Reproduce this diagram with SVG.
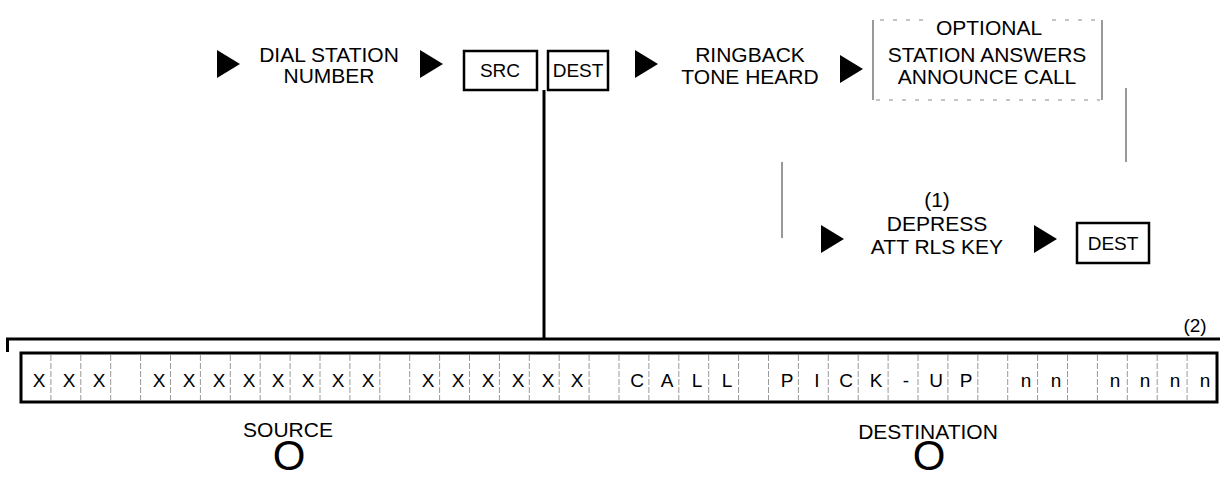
<svg xmlns="http://www.w3.org/2000/svg" width="1220" height="479" viewBox="0 0 1220 479">
<style>
text{font-family:"Liberation Sans",Arial,sans-serif;fill:#000}
.t{font-size:21px;text-anchor:middle}
.b{font-size:19px;text-anchor:middle}
.c{font-size:19px;text-anchor:middle}
.big{font-size:42px;text-anchor:middle}
.box{fill:#fff;stroke:#000;stroke-width:2.5}
.thin{stroke:#555;stroke-width:1.2;fill:none}
.dash{stroke:#888;stroke-width:1;stroke-dasharray:4 9;fill:none}
.div{stroke:#999;stroke-width:1;stroke-dasharray:6 2;fill:none}
.arr{fill:#000}
</style>
<defs>
<path id="tri" d="M0,0 L23,14 L0,28 Z"/>
</defs>
<g id="connectors">
<line x1="544" y1="90" x2="544" y2="340" stroke="#000" stroke-width="3"/>
<path d="M7.5,352 V339 H1220" fill="none" stroke="#000" stroke-width="3"/>
<line class="thin" x1="782" y1="162" x2="782" y2="238"/>
<line class="thin" x1="1126" y1="88" x2="1126" y2="162"/>
</g>
<g id="dial">
<use href="#tri" class="arr" x="217" y="50"/>
<text class="t" x="329" y="62">DIAL STATION</text>
<text class="t" x="329" y="83">NUMBER</text>
<use href="#tri" class="arr" x="420" y="50"/>
</g>
<g id="src">
<rect class="box" x="464" y="51" width="73" height="39"/>
<text class="b" x="500" y="77">SRC</text>
</g>
<g id="dest1">
<rect class="box" x="548" y="51" width="60" height="39"/>
<text class="b" x="578" y="77">DEST</text>
</g>
<g id="ringback">
<use href="#tri" class="arr" x="635" y="50"/>
<text class="t" x="750" y="62">RINGBACK</text>
<text class="t" x="750" y="84">TONE HEARD</text>
<use href="#tri" class="arr" x="840" y="55"/>
</g>
<g id="optional">
<line class="thin" x1="873" y1="20" x2="873" y2="100"/>
<line class="thin" x1="1102" y1="20" x2="1102" y2="100"/>
<line class="dash" x1="880" y1="20" x2="928" y2="20"/>
<line class="dash" x1="1052" y1="20" x2="1100" y2="20"/>
<line class="dash" x1="876" y1="100" x2="1100" y2="100" stroke-dasharray="2 45"/>
<text class="t" x="989" y="35">OPTIONAL</text>
<text class="t" x="987" y="62">STATION ANSWERS</text>
<text class="t" x="987" y="84">ANNOUNCE CALL</text>
</g>
<g id="depress">
<use href="#tri" class="arr" x="821" y="225"/>
<text class="t" x="937" y="207">(1)</text>
<text class="t" x="937" y="231">DEPRESS</text>
<text class="t" x="937" y="254">ATT RLS KEY</text>
<use href="#tri" class="arr" x="1034" y="225"/>
</g>
<g id="dest2">
<rect class="box" x="1077" y="223" width="72" height="40"/>
<text class="b" x="1113" y="250">DEST</text>
</g>
<g id="record">
<text class="c" x="1195" y="332">(2)</text>
<g class="div">
<line x1="50.9" y1="355" x2="50.9" y2="400"/><line x1="80.8" y1="355" x2="80.8" y2="400"/><line x1="110.7" y1="355" x2="110.7" y2="400"/><line x1="140.6" y1="355" x2="140.6" y2="400"/><line x1="170.5" y1="355" x2="170.5" y2="400"/><line x1="200.4" y1="355" x2="200.4" y2="400"/><line x1="230.3" y1="355" x2="230.3" y2="400"/><line x1="260.2" y1="355" x2="260.2" y2="400"/><line x1="290.1" y1="355" x2="290.1" y2="400"/><line x1="320" y1="355" x2="320" y2="400"/><line x1="349.9" y1="355" x2="349.9" y2="400"/><line x1="379.8" y1="355" x2="379.8" y2="400"/><line x1="409.7" y1="355" x2="409.7" y2="400"/><line x1="439.6" y1="355" x2="439.6" y2="400"/><line x1="469.5" y1="355" x2="469.5" y2="400"/><line x1="499.4" y1="355" x2="499.4" y2="400"/><line x1="529.3" y1="355" x2="529.3" y2="400"/><line x1="559.2" y1="355" x2="559.2" y2="400"/><line x1="589.1" y1="355" x2="589.1" y2="400"/><line x1="619" y1="355" x2="619" y2="400"/><line x1="648.9" y1="355" x2="648.9" y2="400"/><line x1="678.8" y1="355" x2="678.8" y2="400"/><line x1="708.7" y1="355" x2="708.7" y2="400"/><line x1="738.6" y1="355" x2="738.6" y2="400"/><line x1="768.5" y1="355" x2="768.5" y2="400"/><line x1="798.4" y1="355" x2="798.4" y2="400"/><line x1="828.3" y1="355" x2="828.3" y2="400"/><line x1="858.2" y1="355" x2="858.2" y2="400"/><line x1="888.1" y1="355" x2="888.1" y2="400"/><line x1="918" y1="355" x2="918" y2="400"/><line x1="947.9" y1="355" x2="947.9" y2="400"/><line x1="977.8" y1="355" x2="977.8" y2="400"/><line x1="1007.7" y1="355" x2="1007.7" y2="400"/><line x1="1037.6" y1="355" x2="1037.6" y2="400"/><line x1="1067.5" y1="355" x2="1067.5" y2="400"/><line x1="1097.4" y1="355" x2="1097.4" y2="400"/><line x1="1127.3" y1="355" x2="1127.3" y2="400"/><line x1="1157.2" y1="355" x2="1157.2" y2="400"/><line x1="1187.1" y1="355" x2="1187.1" y2="400"/>
</g>
<rect x="21" y="353" width="1196" height="49" fill="none" stroke="#000" stroke-width="3"/>
<g class="c">
<text x="39" y="387">X</text><text x="69" y="387">X</text><text x="99" y="387">X</text>
<text x="159" y="387">X</text><text x="189" y="387">X</text><text x="219" y="387">X</text><text x="249" y="387">X</text><text x="278" y="387">X</text><text x="308" y="387">X</text><text x="338" y="387">X</text><text x="368" y="387">X</text>
<text x="428" y="387">X</text><text x="458" y="387">X</text><text x="488" y="387">X</text><text x="518" y="387">X</text><text x="548" y="387">X</text><text x="577" y="387">X</text>
<text x="637" y="387">C</text><text x="667" y="387">A</text><text x="697" y="387">L</text><text x="727" y="387">L</text>
<text x="787" y="387">P</text><text x="817" y="387">I</text><text x="846" y="387">C</text><text x="876" y="387">K</text><text x="906" y="387">-</text><text x="936" y="387">U</text><text x="966" y="387">P</text>
<text x="1026" y="387">n</text><text x="1056" y="387">n</text>
<text x="1115" y="387">n</text><text x="1145" y="387">n</text><text x="1175" y="387">n</text><text x="1205" y="387">n</text>
</g>
</g>
<g id="source">
<text class="t" x="288" y="437">SOURCE</text>
<text class="big" x="289" y="470">O</text>
</g>
<g id="destination">
<text class="t" x="928" y="439">DESTINATION</text>
<text class="big" x="929" y="470">O</text>
</g>
</svg>
